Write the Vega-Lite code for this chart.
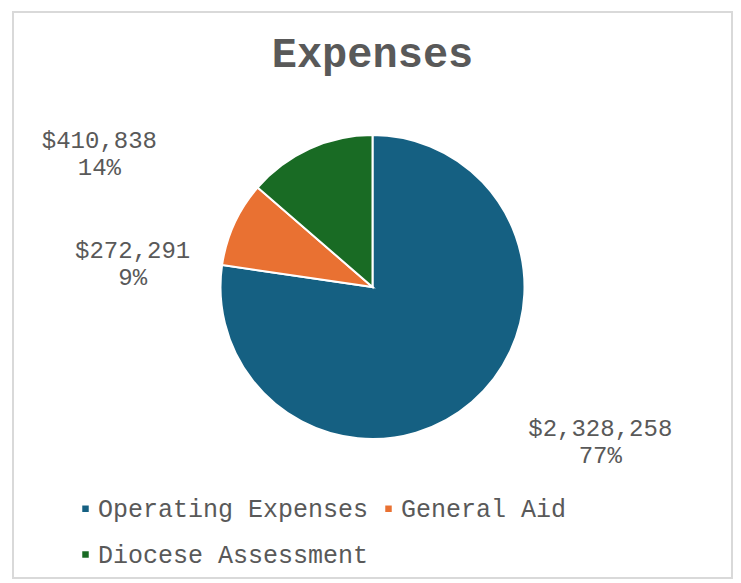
{
  "$schema": "https://vega.github.io/schema/vega-lite/v6.json",
  "width": 741,
  "height": 583,
  "autosize": {"type": "fit", "contains": "padding"},
  "padding": {"left": 11, "top": 11, "right": 8, "bottom": 4},
  "background": "white",
  "config": {"view": {"stroke": null}, "font": "Liberation Mono"},
  "title": {"text": "Expenses", "font": "Liberation Mono", "fontSize": 42, "fontWeight": "bold", "color": "#595959", "anchor": "middle", "frame": "group", "offset": -65},
  "data": {"values": [
    {"category": "Operating Expenses", "value": 2328258},
    {"category": "General Aid", "value": 272291},
    {"category": "Diocese Assessment", "value": 410838}
  ]},
  "transform": [
    {"window": [{"op": "row_number", "as": "ord"}]},
    {"joinaggregate": [{"op": "sum", "field": "value", "as": "total"}]},
    {"calculate": "format(datum.value, '$,') + '\\n' + format(datum.value / datum.total, '.0%')", "as": "label"}
  ],
  "layer": [
    {
      "mark": {"type": "rect", "fill": null, "stroke": "#d9d9d9", "strokeWidth": 2},
      "encoding": {}
    },
    {
      "mark": {"type": "arc", "outerRadius": 152, "stroke": "white", "strokeWidth": 2, "y": {"expr": "height/2 - 8"}},
      "encoding": {
        "theta": {"field": "value", "type": "quantitative", "stack": true},
        "order": {"field": "ord", "type": "quantitative"},
        "color": {
          "field": "category", "type": "nominal",
          "sort": ["Operating Expenses", "General Aid", "Diocese Assessment"],
          "scale": {"domain": ["Operating Expenses", "General Aid", "Diocese Assessment"], "range": ["#156082", "#E97132", "#196B24"]},
          "legend": {
            "title": null, "orient": "none", "legendX": 60, "legendY": 484,
            "direction": "horizontal", "columns": 2, "padding": 0,
            "symbolType": "square", "symbolSize": 42, "symbolStrokeWidth": 0,
            "labelFont": "Liberation Mono", "labelFontSize": 25, "labelColor": "#595959",
            "labelOffset": 0, "columnPadding": 7, "rowPadding": 20, "labelLimit": 400
          }
        }
      }
    },
    {
      "mark": {"type": "text", "radius": 200, "font": "Liberation Mono", "fontSize": 24, "color": "#595959", "lineBreak": "\n", "lineHeight": 27, "align": "center", "baseline": "middle", "dx": 97, "dy": -9, "y": {"expr": "height/2 - 8"}},
      "encoding": {
        "theta": {"field": "value", "type": "quantitative", "stack": true},
        "order": {"field": "ord", "type": "quantitative"},
        "text": {"condition": {"test": "datum.category === 'Operating Expenses'", "field": "label"}, "value": ""}
      }
    },
    {
      "mark": {"type": "text", "radius": 200, "font": "Liberation Mono", "fontSize": 24, "color": "#595959", "lineBreak": "\n", "lineHeight": 27, "align": "center", "baseline": "middle", "dx": -58, "dy": 47, "y": {"expr": "height/2 - 8"}},
      "encoding": {
        "theta": {"field": "value", "type": "quantitative", "stack": true},
        "order": {"field": "ord", "type": "quantitative"},
        "text": {"condition": {"test": "datum.category === 'General Aid'", "field": "label"}, "value": ""}
      }
    },
    {
      "mark": {"type": "text", "radius": 200, "font": "Liberation Mono", "fontSize": 24, "color": "#595959", "lineBreak": "\n", "lineHeight": 27, "align": "center", "baseline": "middle", "dx": -190, "dy": 36, "y": {"expr": "height/2 - 8"}},
      "encoding": {
        "theta": {"field": "value", "type": "quantitative", "stack": true},
        "order": {"field": "ord", "type": "quantitative"},
        "text": {"condition": {"test": "datum.category === 'Diocese Assessment'", "field": "label"}, "value": ""}
      }
    }
  ]
}
